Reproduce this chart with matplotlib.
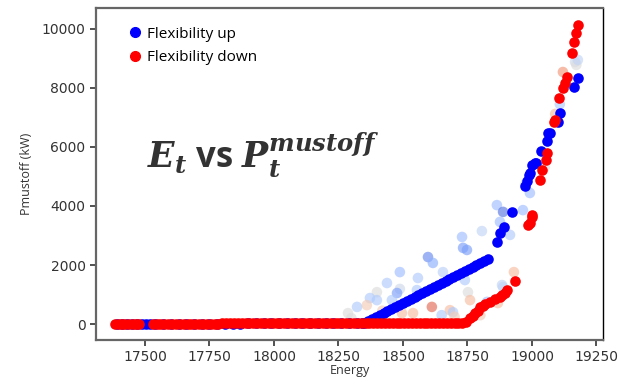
import matplotlib
matplotlib.use("Agg")
import matplotlib.pyplot as plt
from matplotlib.lines import Line2D

# blue series: flexibility up
up_x = [17390, 17410, 17430, 17450, 17470, 17490, 17505, 17520, 17540, 17570, 17600, 17630,
        17660, 17690, 17720, 17750, 17780, 17810, 17840, 17870, 17900, 17930, 17960, 17990,
        18020, 18050, 18080, 18110, 18140, 18170, 18200, 18230, 18260, 18290, 18320, 18340,
        18350, 18365, 18380, 18395, 18410, 18425, 18440, 18455, 18470, 18485, 18500, 18515,
        18530, 18545, 18560, 18575, 18590, 18605, 18620, 18635, 18650, 18665, 18680, 18695,
        18710, 18725, 18740, 18755, 18770, 18785, 18800, 18815, 18830,
        18864, 18876, 18891, 18922, 18973, 18981, 18988, 18992, 19000, 19012, 19015, 19035,
        19058, 19062, 19070, 19100, 19108, 19163, 19178]
up_y = [0, 0, 0, 0, 0, 0, 0, 0, 0, 0, 0, 0,
        0, 0, 0, 0, 0, 10, 10, 10, 20, 20, 20, 20,
        20, 20, 20, 20, 20, 20, 30, 30, 30, 30, 30, 30,
        20, 90, 160, 230, 300, 370, 430, 500, 570, 640, 710, 780,
        840, 910, 980, 1050, 1120, 1180, 1250, 1320, 1390, 1460, 1530, 1590,
        1660, 1730, 1800, 1870, 1940, 2000, 2070, 2140, 2200,
        2780, 3085, 3290, 3800, 4680, 4850, 5050, 5120, 5390, 5460, 5460, 5860,
        6200, 6470, 6470, 6850, 7150, 8030, 8340]

# red series: flexibility down
down_x = [17385, 17398, 17411, 17424, 17440, 17452, 17464, 17476,
          17530, 17545, 17560, 17575, 17590, 17605, 17620, 17635, 17650, 17665, 17680, 17695,
          17710, 17725, 17740, 17755, 17770, 17785, 17800, 17815, 17830, 17845, 17860, 17875,
          17890, 17905, 17920, 17935, 17950, 17965, 17980, 17995, 18010, 18025, 18040, 18055,
          18070, 18085, 18100, 18115, 18130, 18145, 18160, 18175, 18190, 18205, 18220, 18235,
          18250, 18265, 18280, 18295, 18310, 18325, 18340, 18355, 18370, 18385, 18400, 18415,
          18430, 18445, 18460, 18475, 18490, 18505, 18520, 18535, 18550, 18565, 18580, 18595,
          18610, 18625, 18640, 18655, 18670, 18685, 18700, 18715, 18730, 18745,
          18760, 18770, 18779, 18790, 18798, 18810, 18817, 18837, 18856, 18876, 18885, 18895,
          18905, 18934, 18985, 18992, 19000, 19002, 19031, 19039, 19054, 19058, 19085, 19090,
          19105, 19120, 19128, 19136, 19155, 19163, 19170, 19178]
down_y = [0, 0, 0, 0, 0, 0, 0, 0,
          0, 0, 0, 0, 0, 0, 0, 0, 0, 0, 0, 0,
          0, 0, 0, 10, 10, 10, 20, 20, 20, 20, 20, 20,
          20, 30, 30, 30, 30, 30, 30, 30, 30, 30, 30, 30,
          30, 30, 30, 30, 40, 40, 40, 40, 40, 40, 40, 40,
          40, 40, 40, 40, 40, 40, 40, 40, 40, 40, 40, 40,
          40, 40, 40, 40, 40, 40, 40, 40, 40, 40, 40, 40,
          40, 40, 40, 40, 40, 40, 40, 40, 40, 60,
          200, 280, 370, 450, 580, 600, 680, 750, 850, 920, 980, 1050,
          1150, 1460, 3360, 3420, 3630, 3700, 4880, 5220, 5560, 5800, 6850, 6920,
          7660, 8000, 8170, 8370, 9190, 9560, 9870, 10140]

# scattered lighter points (colour value on coolwarm scale)
faint_x = [18729, 18748, 18806, 18864, 18888, 18876, 18915, 18965, 18992, 18884, 18740, 18752,
           18760, 18682, 18694, 18826, 18868, 18930, 18488, 18438, 18558, 18597, 18616, 18655,
           18399, 18488, 18372, 18399, 18477, 18457, 18322, 18287, 18612, 18496, 18539, 18360,
           18554, 18733, 18300, 18420, 18650, 18700, 18800, 19167, 19172, 19178, 19120, 19108,
           19090, 19050, 18975, 18888]
faint_y = [2950, 2510, 3150, 4030, 3800, 3460, 3020, 3860, 4440, 1320, 1490, 1080,
           810, 470, 400, 750, 710, 1760, 1760, 1390, 1560, 2270, 2070, 1760,
           1080, 1190, 880, 810, 1050, 810, 580, 370, 580, 370, 370, 640,
           1150, 2580, 200, 450, 300, 250, 300, 8880, 8780, 8950, 8540, 7450,
           7120, 5320, 4750, 1250]
faint_v = [0.3, 0.2, 0.4, 0.3, 0.1, 0.3, 0.35, 0.3, 0.3, 0.4, 0.35, 0.5,
           0.65, 0.65, 0.35, 0.3, 0.65, 0.65, 0.3, 0.35, 0.35, 0.15, 0.25, 0.38,
           0.5, 0.45, 0.35, 0.35, 0.2, 0.35, 0.35, 0.5, 0.85, 0.65, 0.65, 0.6,
           0.35, 0.2, 0.5, 0.6, 0.35, 0.6, 0.6, 0.45, 0.5, 0.4, 0.75, 0.35,
           0.65, 0.5, 0.4, 0.4]

x_ticks = [17500, 17750, 18000, 18250, 18500, 18750, 19000, 19250]
y_ticks = [0, 2000, 4000, 6000, 8000, 10000]

fig = plt.figure(figsize=(6.19, 3.79), dpi=100)
ax = fig.add_axes([0.155, 0.103, 0.819, 0.876])

ax.scatter(faint_x, faint_y, c=faint_v, cmap="coolwarm", vmin=0, vmax=1,
           s=58, alpha=0.65, linewidths=0)
ax.scatter(up_x, up_y, color="#0000ff", s=58, linewidths=0)
ax.scatter(down_x, down_y, color="#ff0000", s=58, linewidths=0)

ax.set_xlim(17310, 19275)
ax.set_ylim(-540, 10710)
ax.set_xticks(x_ticks)
ax.set_yticks(y_ticks)
ax.tick_params(labelsize=10, colors="#333333", length=4, width=1.2)
for name in ["left", "bottom", "top"]:
    ax.spines[name].set_color("#666666")
    ax.spines[name].set_linewidth(1.6)
ax.spines["right"].set_color("black")
ax.spines["right"].set_linewidth(1.0)

ax.set_xlabel("Energy", fontsize=9, family="Open Sans", color="#333333", labelpad=0)
ax.set_ylabel("Pmustoff (kW)", fontsize=9, family="Open Sans", color="#333333", labelpad=6)

handles = [Line2D([], [], marker="o", color="#0000ff", linestyle="", markersize=7),
           Line2D([], [], marker="o", color="#ff0000", linestyle="", markersize=7)]
ax.legend(handles, ["Flexibility up", "Flexibility down"], loc="upper left",
          frameon=False, prop={"family": "Open Sans", "size": 11}, handletextpad=0.3,
          handlelength=1.0, bbox_to_anchor=(0.035, 0.985), labelspacing=0.55)

plt.rcParams["mathtext.fontset"] = "dejavuserif"
ax.text(0.10, 0.52, r"$\mathbfit{E_t}$ vs $\mathbfit{P_t^{mustoff}}$",
        transform=ax.transAxes, fontsize=25, fontweight="bold", color="#333333",
        family="Open Sans")

fig.savefig("out.png", dpi=100)
